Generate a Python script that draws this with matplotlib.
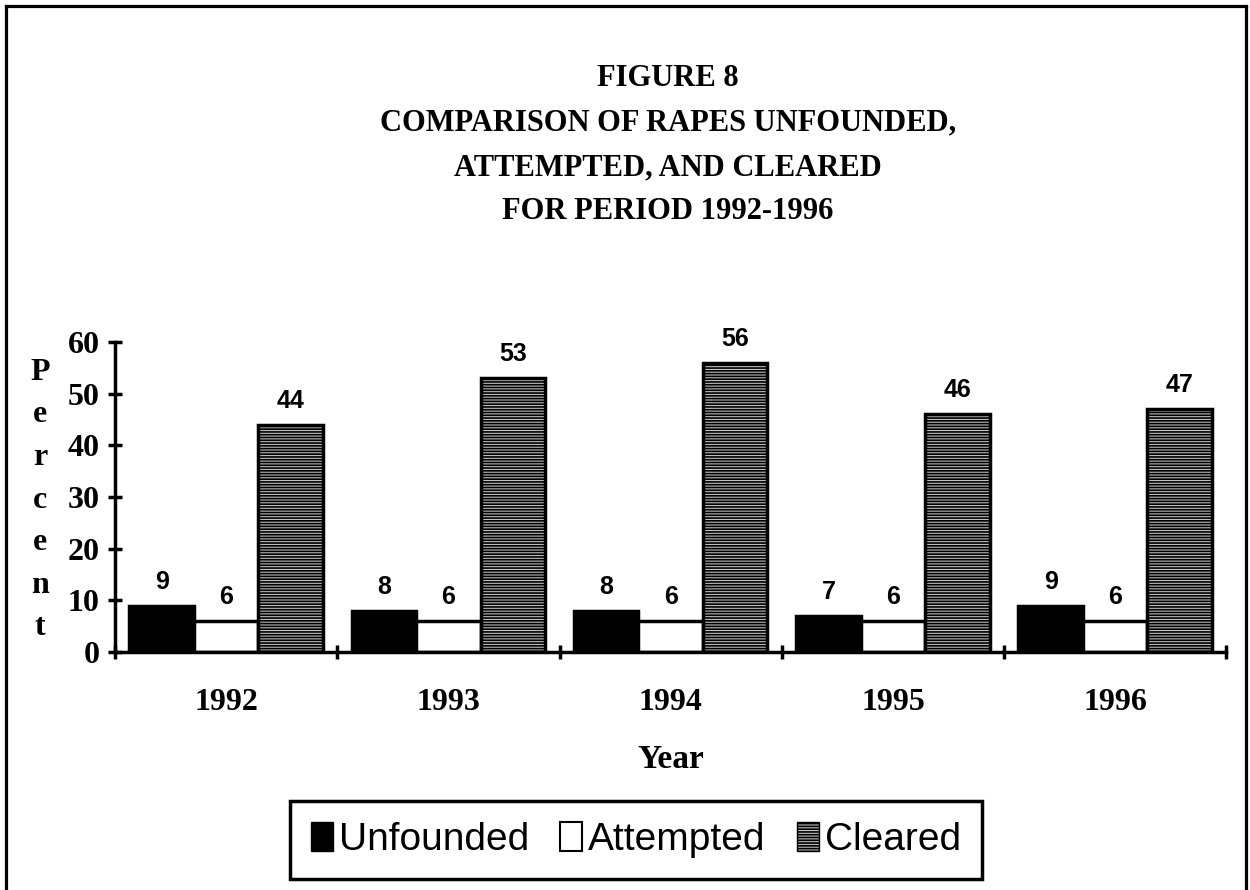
import matplotlib
matplotlib.use("Agg")
import matplotlib.pyplot as plt
import numpy as np
from matplotlib.lines import Line2D
from matplotlib.patches import Patch

years = ["1992", "1993", "1994", "1995", "1996"]
unfounded = [9, 8, 8, 7, 9]
attempted = [6, 6, 6, 6, 6]
cleared = [44, 53, 56, 46, 47]
series_names = ["Unfounded", "Attempted", "Cleared"]
title_lines = ["FIGURE 8", "COMPARISON OF RAPES UNFOUNDED,",
               "ATTEMPTED, AND CLEARED", "FOR PERIOD 1992-1996"]

plt.rcParams['hatch.color'] = '#6a6a6a'
plt.rcParams['hatch.linewidth'] = 1.2

fig = plt.figure(figsize=(12.5, 8.9), dpi=100)
ax = fig.add_axes([0.092, 0.2674, 0.889, 0.3483])

x = np.arange(len(years))
w = 0.29
b1 = ax.bar(x - w, unfounded, w, color='black', edgecolor='black', linewidth=2.5)
b2 = ax.bar(x, attempted, w, color='white', edgecolor='black', linewidth=2.5)
b3 = ax.bar(x + w, cleared, w, color='#bdbdbd', edgecolor='black', linewidth=2.5,
            hatch='------')

# value labels above the bars
for bars in (b1, b2, b3):
    for r in bars:
        ax.text(r.get_x() + r.get_width() / 2, r.get_height() + 2.3, f"{r.get_height():.0f}",
                ha='center', va='bottom', fontsize=18, fontweight='bold',
                family='Liberation Sans')

ax.set_xlim(-0.5, len(years) - 0.5)
ax.set_ylim(0, 60)
ax.set_yticks(range(0, 61, 10))
ax.set_xticks(np.arange(-0.5, len(years), 1.0))
ax.set_xticklabels([])
ax.set_xticks(x, minor=True)
ax.set_xticklabels(years, minor=True)
ax.tick_params(axis='x', which='minor', length=0, pad=26)
ax.tick_params(axis='both', which='major', direction='inout', length=10, width=2.5)
ax.tick_params(axis='y', pad=6)
for lab in ax.get_yticklabels() + ax.get_xticklabels(minor=True):
    lab.set_family('Liberation Serif')
    lab.set_fontweight('bold')
    lab.set_fontsize(23)

for s in ('top', 'right'):
    ax.spines[s].set_visible(False)
for s in ('left', 'bottom'):
    ax.spines[s].set_linewidth(2.5)

ax.set_xlabel("Year", family='Liberation Serif', fontweight='bold', fontsize=24, labelpad=19)

fig.text(0.032, 1 - 500 / 890, "\n".join("Percent"), ha='center', va='center',
         family='Liberation Serif', fontweight='bold', fontsize=23, linespacing=1.62)

# title, centred over the plot area
for i, line in enumerate(title_lines):
    fig.text(668 / 1250, 1 - (79 + 44.3 * i) / 890, line, ha='center', va='center',
             family='Liberation Serif', fontweight='bold', fontsize=22)

handles = [Patch(facecolor='black', edgecolor='black'),
           Patch(facecolor='white', edgecolor='black', linewidth=1.5),
           Patch(facecolor='#bdbdbd', edgecolor='black', hatch='------')]
leg = fig.legend(handles, series_names, ncol=3, loc='center',
                 bbox_to_anchor=(636 / 1250, 1 - 840 / 890), frameon=True, fancybox=False,
                 framealpha=1, prop={'family': 'Liberation Sans', 'size': 28},
                 handlelength=0.57, handleheight=0.77, handletextpad=0.15,
                 columnspacing=0.8, borderpad=0.55)
leg.get_frame().set_edgecolor('black')
leg.get_frame().set_linewidth(2.5)

# page border (top, left, right)
fig.add_artist(Line2D([6 / 1250, 6 / 1250], [0, 1 - 6 / 890], color='black', lw=2.3))
fig.add_artist(Line2D([6 / 1250, 1246 / 1250], [1 - 6 / 890, 1 - 6 / 890], color='black', lw=2.3))
fig.add_artist(Line2D([1246 / 1250, 1246 / 1250], [0, 1 - 6 / 890], color='black', lw=2.3))

fig.savefig("out.png", dpi=100)
